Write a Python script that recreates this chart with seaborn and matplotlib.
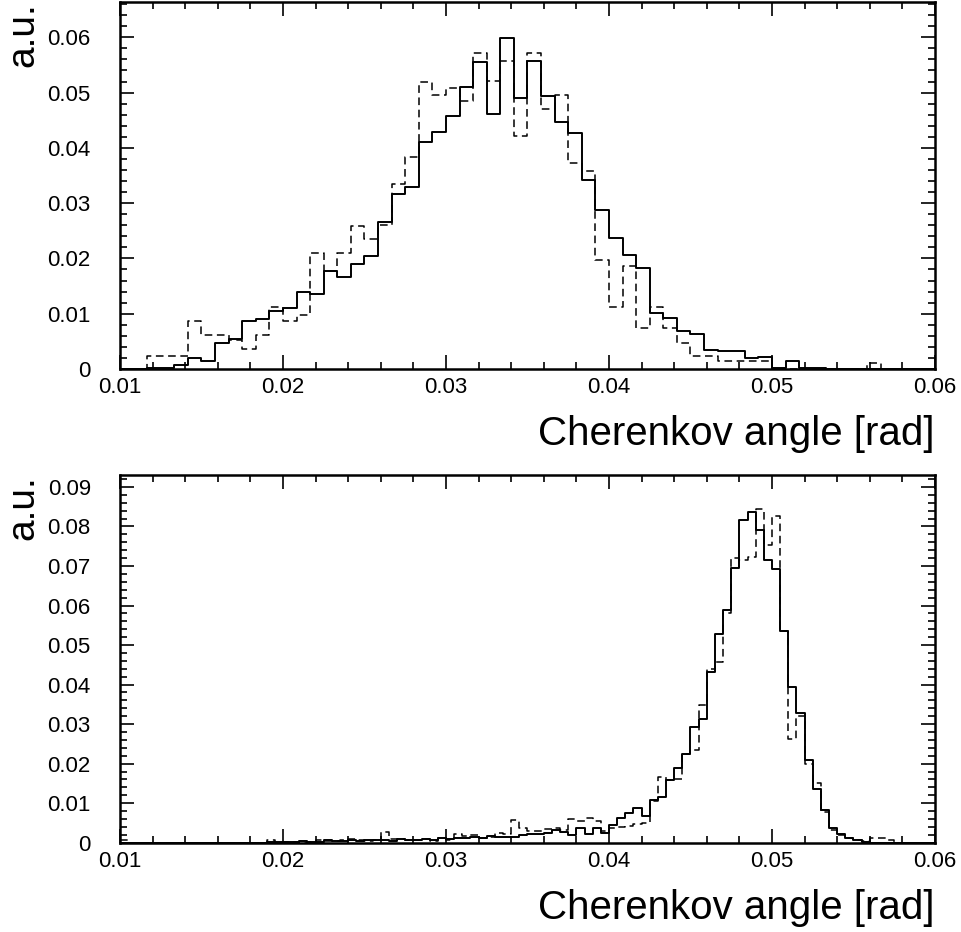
import numpy as np
import pandas as pd
import matplotlib
matplotlib.use("Agg")
import matplotlib.pyplot as plt
import seaborn as sns
from matplotlib.ticker import MultipleLocator, FuncFormatter

# bin contents (a.u.), 60 bins in upper plot, 100 bins in lower plot
top_solid = [0, 0, 0.0001, 0.0002, 0.0008, 0.0019, 0.0014, 0.0047, 0.0054, 0.0087,
             0.0090, 0.0104, 0.0111, 0.0139, 0.0136, 0.0177, 0.0166, 0.0190, 0.0205, 0.0266,
             0.0317, 0.0329, 0.0411, 0.0428, 0.0457, 0.0511, 0.0555, 0.0461, 0.0598, 0.0490,
             0.0557, 0.0493, 0.0447, 0.0427, 0.0342, 0.0288, 0.0237, 0.0207, 0.0183, 0.0102,
             0.0092, 0.0068, 0.0063, 0.0034, 0.0032, 0.0032, 0.0019, 0.0022, 0.0001, 0.0014,
             0.0001, 0.0002, 0, 0, 0, 0, 0, 0, 0, 0]
top_dashed = [0, 0, 0.0024, 0.0024, 0.0024, 0.0086, 0.0062, 0.0062, 0.0052, 0.0037,
              0.0062, 0.0112, 0.0086, 0.0098, 0.0210, 0.0178, 0.0210, 0.0259, 0.0235, 0.0260,
              0.0335, 0.0384, 0.0520, 0.0496, 0.0508, 0.0484, 0.0571, 0.0521, 0.0558, 0.0422,
              0.0571, 0.0471, 0.0496, 0.0372, 0.0358, 0.0198, 0.0112, 0.0186, 0.0074, 0.0112,
              0.0074, 0.0047, 0.0024, 0.0024, 0.0014, 0.0014, 0.0014, 0.0014, 0, 0,
              0, 0, 0, 0, 0, 0.0011, 0, 0, 0, 0]

bot_solid = [0, 0, 0, 0, 0, 0, 0, 0, 0, 0,
             0, 0, 0, 0, 0, 0, 0, 0, 0.0002, 0.0001,
             0.0002, 0.0001, 0.0004, 0.0002, 0.0003, 0.0007, 0.0004, 0.0005, 0.0006, 0.0004,
             0.0008, 0.0006, 0.0007, 0.0005, 0.0009, 0.0006, 0.0008, 0.0010, 0.0007, 0.0011,
             0.0009, 0.0012, 0.0011, 0.0015, 0.0013, 0.0017, 0.0014, 0.0015, 0.0015, 0.0019,
             0.0021, 0.0023, 0.0024, 0.0032, 0.0028, 0.0019, 0.0036, 0.0022, 0.0036, 0.0025,
             0.0046, 0.0062, 0.0074, 0.0087, 0.0067, 0.0108, 0.0115, 0.0158, 0.0190, 0.0224,
             0.0293, 0.0314, 0.0432, 0.0527, 0.0588, 0.0695, 0.0817, 0.0837, 0.0790, 0.0715,
             0.0692, 0.0536, 0.0393, 0.0327, 0.0209, 0.0137, 0.0083, 0.0036, 0.0022, 0.0013,
             0.0007, 0.0003, 0, 0, 0, 0, 0, 0, 0, 0]
bot_dashed = [0.0008, 0, 0, 0, 0, 0, 0, 0, 0, 0,
              0, 0, 0, 0, 0, 0, 0, 0, 0.0008, 0,
              0.0002, 0.0003, 0, 0.0003, 0.0006, 0.0005, 0.0004, 0.0008, 0.0010, 0.0006,
              0.0005, 0.0007, 0.0028, 0.0010, 0.0010, 0.0007, 0.0006, 0.0009, 0.0005, 0.0012,
              0.0008, 0.0022, 0.0018, 0.0020, 0.0012, 0.0015, 0.0025, 0.0022, 0.0057, 0.0036,
              0.0030, 0.0030, 0.0034, 0.0036, 0.0032, 0.0060, 0.0056, 0.0062, 0.0054, 0.0030,
              0.0036, 0.0040, 0.0043, 0.0048, 0.0049, 0.0105, 0.0167, 0.0158, 0.0160, 0.0224,
              0.0234, 0.0348, 0.0440, 0.0458, 0.0580, 0.0720, 0.0715, 0.0722, 0.0845, 0.0752,
              0.0826, 0.0536, 0.0262, 0.0320, 0.0200, 0.0150, 0.0078, 0.0032, 0.0019, 0.0011,
              0.0006, 0.0004, 0.0013, 0.0013, 0.0007, 0, 0, 0, 0, 0]

x_min, x_max = 0.01, 0.06

sns.set_style("white")
plt.rcParams["font.family"] = ["Liberation Sans", "DejaVu Sans"]
plt.rcParams["text.color"] = "black"
plt.rcParams["axes.labelcolor"] = "black"
plt.rcParams["xtick.color"] = "black"
plt.rcParams["ytick.color"] = "black"

fig = plt.figure(figsize=(9.62, 9.32), dpi=100)
ax1 = fig.add_axes([0.1247, 0.6041, 0.8472, 0.3938])
ax2 = fig.add_axes([0.1247, 0.0958, 0.8472, 0.3945])

fmt = FuncFormatter(lambda v, p: f"{round(v, 4):g}")

for ax, solid, dashed, ymax in [(ax1, top_solid, top_dashed, 0.0664),
                                (ax2, bot_solid, bot_dashed, 0.093)]:
    nbins = len(solid)
    width = (x_max - x_min) / nbins
    centers = x_min + width * (np.arange(nbins) + 0.5)
    df = pd.DataFrame({"angle": centers, "solid": solid, "dashed": dashed})
    sns.histplot(data=df, x="angle", weights="dashed", bins=nbins, binrange=(x_min, x_max),
                 element="step", fill=False, color="black", linewidth=1.1,
                 linestyle=(0, (5, 3)), ax=ax)
    sns.histplot(data=df, x="angle", weights="solid", bins=nbins, binrange=(x_min, x_max),
                 element="step", fill=False, color="black", linewidth=1.4, ax=ax)
    ax.set_xlim(x_min, x_max)
    ax.set_ylim(0, ymax)
    ax.xaxis.set_major_locator(MultipleLocator(0.01))
    ax.xaxis.set_minor_locator(MultipleLocator(0.002))
    ax.yaxis.set_major_locator(MultipleLocator(0.01))
    ax.yaxis.set_minor_locator(MultipleLocator(0.002))
    ax.xaxis.set_major_formatter(fmt)
    ax.yaxis.set_major_formatter(fmt)
    ax.tick_params(which="both", direction="in", top=True, right=True,
                   bottom=True, left=True, width=1.2, color="black",
                   labelcolor="black", labelsize=16)
    ax.tick_params(which="major", length=10)
    ax.tick_params(which="minor", length=5)
    ax.tick_params(axis="y", which="major", pad=21)
    ax.tick_params(axis="x", which="major", pad=6)
    for s in ax.spines.values():
        s.set_linewidth(1.8)
        s.set_color("black")
    ax.set_xlabel("Cherenkov angle [rad]", fontsize=29, loc="right", labelpad=12,
                  color="black")
    ax.set_ylabel("a.u.", fontsize=28, loc="top", labelpad=4, color="black")

fig.savefig("out.png", dpi=100)
